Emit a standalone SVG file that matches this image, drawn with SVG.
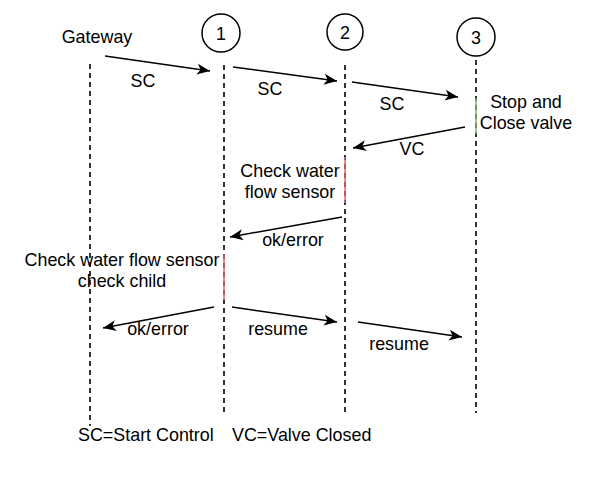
<svg xmlns="http://www.w3.org/2000/svg" width="597" height="483" viewBox="0 0 597 483">
<style>
text{font-family:"Liberation Sans",Arial,sans-serif;font-size:17.9px;fill:#000}
.c{text-anchor:middle}
.life{stroke:#333;stroke-width:2;stroke-dasharray:5 4;fill:none}
.msg{stroke:#000;stroke-width:1.5;fill:none;marker-end:url(#ah)}
.node{fill:#fff;stroke:#000;stroke-width:1.5}
</style>
<defs>
<marker id="ah" markerUnits="userSpaceOnUse" markerWidth="14" markerHeight="12" refX="13" refY="6" orient="auto">
<path d="M0,0.5 L13,6 L0,11.5 L3.5,6 Z" fill="#000"/>
</marker>
</defs>
<rect width="597" height="483" fill="#fff"/>
<g id="lifelines">
<line class="life" x1="90" y1="64" x2="90" y2="426"/>
<line class="life" x1="224" y1="65" x2="224" y2="413"/>
<line class="life" x1="345" y1="65" x2="345" y2="413"/>
<line class="life" x1="476" y1="60" x2="476" y2="413"/>
</g>
<g id="activations">
<line x1="476" y1="98" x2="476" y2="134" stroke="#82b366" stroke-width="1.5"/>
<line x1="345" y1="157" x2="345" y2="203" stroke="#e06666" stroke-width="1.5"/>
<line x1="224" y1="254" x2="224" y2="300" stroke="#e06666" stroke-width="1.5"/>
</g>
<g id="gateway"><text class="c" x="97" y="43">Gateway</text></g>
<g id="node1"><circle class="node" cx="221" cy="33" r="19"/><text class="c" x="221" y="40">1</text></g>
<g id="node2"><circle class="node" cx="345" cy="32" r="18"/><text class="c" x="345" y="39">2</text></g>
<g id="node3"><circle class="node" cx="476" cy="37" r="19"/><text class="c" x="476" y="44">3</text></g>
<g id="connectors">
<line class="msg" x1="105" y1="56" x2="210" y2="71"/>
<line class="msg" x1="233" y1="67" x2="337" y2="81"/>
<line class="msg" x1="352" y1="82" x2="458" y2="97"/>
<line class="msg" x1="465" y1="127" x2="353" y2="148"/>
<line class="msg" x1="342" y1="217" x2="230" y2="237"/>
<line class="msg" x1="214" y1="307" x2="103" y2="328"/>
<line class="msg" x1="232" y1="307" x2="337" y2="322"/>
<line class="msg" x1="358" y1="322" x2="462" y2="337"/>
</g>
<g id="labels">
<text class="c" x="143" y="87">SC</text>
<text class="c" x="270" y="95">SC</text>
<text class="c" x="392" y="110">SC</text>
<text class="c" x="526" y="108">Stop and</text>
<text class="c" x="526" y="129">Close valve</text>
<text class="c" x="412" y="155">VC</text>
<text class="c" x="290" y="177">Check water</text>
<text class="c" x="290" y="198">flow sensor</text>
<text class="c" x="293" y="246">ok/error</text>
<text class="c" x="122" y="266">Check water flow sensor</text>
<text class="c" x="122" y="287">check child</text>
<text class="c" x="158" y="335">ok/error</text>
<text class="c" x="278" y="335">resume</text>
<text class="c" x="399" y="350">resume</text>
<text x="78" y="441">SC=Start Control</text>
<text x="232" y="441">VC=Valve Closed</text>
</g>
</svg>
